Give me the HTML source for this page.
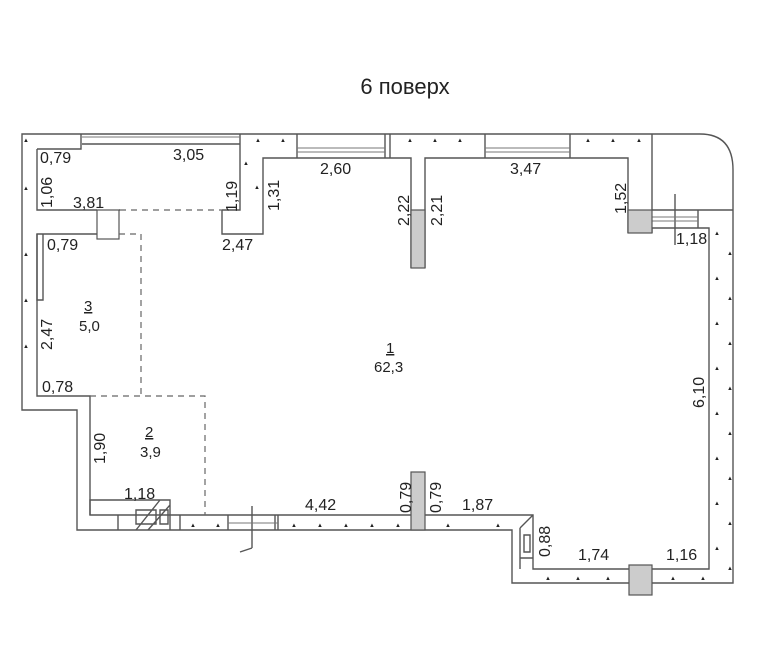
<!DOCTYPE html>
<html><head><meta charset="utf-8"><style>
body{margin:0;background:#fff;width:780px;height:650px;overflow:hidden}
svg text{font-family:"Liberation Sans",sans-serif;fill:#222}
</style></head><body>
<svg width="780" height="650" viewBox="0 0 780 650" xmlns="http://www.w3.org/2000/svg">
<text x="405" y="94" font-size="22" text-anchor="middle">6 поверх</text>
<g fill="none" stroke="#555" stroke-width="1.4">
<path d="M22 134 H700 Q733 134 733 170 V583 H512 V530 H77 V410 H22 Z"/>
<path d="M37 149 V210 H97 M119 210 H120 M222 210 H240 V134 M222 210 V234 H263 V158 H411 V268 M425 268 V158 H628 V233 M652 134 V210 H733 M652 233 V228 H709 V569 H533 V515 H425 M411 515 H90 V396 H37 V234 H97"/>
<path d="M37 149 H81 V134 M82 144 H240"/>
<path d="M297 134 V158 M385 134 V158 M390 134 V158 M485 134 V158 M570 134 V158 M698 210 V228 M675 194 V245"/>
<path d="M37 234 V300 H43 V234"/>
<path d="M228 530 V515 M278 530 V515 M252 506 V548 M240 552 L252 548"/>
<path d="M118 515 V530 M170 515 V530 M90 515 V500 H170 V515 M136 510 H156 V524 H136 Z M160 510 H168 V524 H160 Z M136 530 L160 500 M148 530 L170 505"/>
<path d="M180 515 V530 M275 515 V530"/>
<path d="M533 515 L520 528 M520 528 V569 M520 558 H533 M524 535 H530 V552 H524 Z"/>
</g>
<g fill="none" stroke="#777" stroke-width="0.9">
<path d="M82 137 H240 M297 148 H385 M297 152 H385 M485 148 H570 M485 152 H570 M652 217 H698 M652 221 H698 M228 523 H278"/>
</g>
<g fill="#ccc" stroke="#555" stroke-width="1.2">
<rect x="97" y="210" width="22" height="29" fill="#fff"/>
<rect x="411" y="210" width="14" height="58"/>
<rect x="411" y="472" width="14" height="58"/>
<rect x="628" y="210" width="24" height="23"/>
<rect x="629" y="565" width="23" height="30"/>
</g>
<g fill="none" stroke="#666" stroke-width="1.2" stroke-dasharray="6,5">
<path d="M120 210 H222 M119 234 H141 V396 M90 396 H205 V515"/>
</g>
<g font-size="16">
<text x="40" y="163">0,79</text>
<text x="173" y="160">3,05</text>
<text x="73" y="208">3,81</text>
<text x="47" y="250">0,79</text>
<text x="222" y="250">2,47</text>
<text x="320" y="174">2,60</text>
<text x="510" y="174">3,47</text>
<text x="676" y="244">1,18</text>
<text x="42" y="392">0,78</text>
<text x="124" y="499">1,18</text>
<text x="305" y="510">4,42</text>
<text x="462" y="510">1,87</text>
<text x="578" y="560">1,74</text>
<text x="666" y="560">1,16</text>
<text x="386" y="353" font-size="15" text-decoration="underline">1</text>
<text x="374" y="372" font-size="15">62,3</text>
<text x="84" y="311" font-size="15" text-decoration="underline">3</text>
<text x="79" y="331" font-size="15">5,0</text>
<text x="145" y="437" font-size="15" text-decoration="underline">2</text>
<text x="140" y="457" font-size="15">3,9</text>
</g>
<g font-size="16">
<text transform="translate(52,208) rotate(-90)">1,06</text>
<text transform="translate(237,212) rotate(-90)">1,19</text>
<text transform="translate(279,211) rotate(-90)">1,31</text>
<text transform="translate(409,226) rotate(-90)">2,22</text>
<text transform="translate(442,226) rotate(-90)">2,21</text>
<text transform="translate(626,214) rotate(-90)">1,52</text>
<text transform="translate(52,350) rotate(-90)">2,47</text>
<text transform="translate(105,464) rotate(-90)">1,90</text>
<text transform="translate(411,513) rotate(-90)">0,79</text>
<text transform="translate(441,513) rotate(-90)">0,79</text>
<text transform="translate(550,557) rotate(-90)">0,88</text>
<text transform="translate(704,408) rotate(-90)">6,10</text>
</g>
<g fill="#555" font-size="6">
<text x="23" y="142">▲</text><text x="23" y="190">▲</text><text x="23" y="256">▲</text><text x="23" y="302">▲</text><text x="23" y="348">▲</text>
<text x="255" y="142">▲</text><text x="280" y="142">▲</text><text x="243" y="165">▲</text><text x="254" y="189">▲</text>
<text x="407" y="142">▲</text><text x="432" y="142">▲</text><text x="457" y="142">▲</text>
<text x="585" y="142">▲</text><text x="610" y="142">▲</text><text x="636" y="142">▲</text>
<text x="714" y="235">▲</text><text x="714" y="280">▲</text><text x="714" y="325">▲</text><text x="714" y="370">▲</text><text x="714" y="415">▲</text><text x="714" y="460">▲</text><text x="714" y="505">▲</text><text x="714" y="550">▲</text>
<text x="727" y="255">▲</text><text x="727" y="300">▲</text><text x="727" y="345">▲</text><text x="727" y="390">▲</text><text x="727" y="435">▲</text><text x="727" y="480">▲</text><text x="727" y="525">▲</text><text x="727" y="570">▲</text>
<text x="190" y="527">▲</text><text x="215" y="527">▲</text><text x="291" y="527">▲</text><text x="317" y="527">▲</text><text x="343" y="527">▲</text><text x="369" y="527">▲</text><text x="395" y="527">▲</text><text x="445" y="527">▲</text><text x="495" y="527">▲</text>
<text x="545" y="580">▲</text><text x="575" y="580">▲</text><text x="605" y="580">▲</text><text x="670" y="580">▲</text><text x="700" y="580">▲</text>
</g>
</svg>
</body></html>
